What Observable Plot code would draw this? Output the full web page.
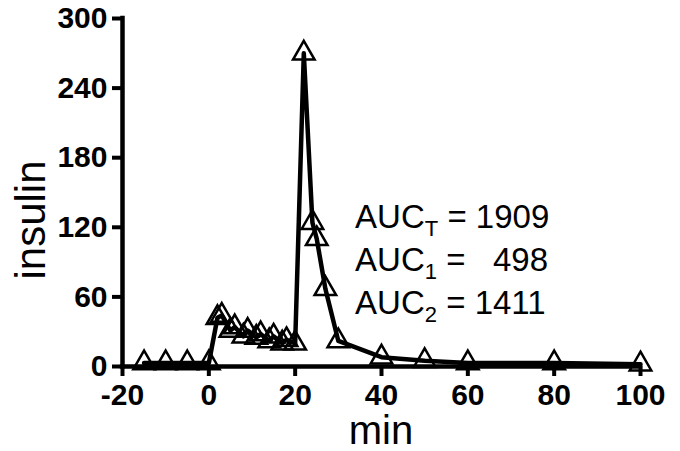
<!DOCTYPE html>
<html>
<head>
<meta charset="utf-8">
<script src="https://cdn.jsdelivr.net/npm/d3@7"></script>
<script src="https://cdn.jsdelivr.net/npm/@observablehq/plot@0.6"></script>
<style>
  html, body { margin: 0; padding: 0; background: #fff; }
</style>
</head>
<body>
<div id="chart"></div>
<script>
// Data
const times   = [-15, -10, -5, 0, 2, 3, 5, 6, 8, 9, 11, 12, 14, 15, 17, 18, 20, 22, 24, 25, 27, 30, 40, 50, 60, 80, 100];
const insulin = [3, 3, 3, 3, 42, 44, 31, 34, 26, 31, 25, 28, 22, 26, 20, 23, 20, 270, 124, 110, 67, 22, 8, 5, 3, 3, 2];
const xTicks = [-20, 0, 20, 40, 60, 80, 100];
const yTicks = [0, 60, 120, 180, 240, 300];
const aucSubs   = ["T", "1", "2"];
const aucValues = ["= 1909", "=   498", "= 1411"];
const aucY      = [119, 82, 45];
const aucX      = 34;

const data = times.map((t, i) => ({t, v: insulin[i]}));
const font = "'Liberation Sans', Arial, Helvetica, sans-serif";
const fmt = d => String(d); // plain hyphen-minus like the reference

const plot = Plot.plot({
  width: 680,
  height: 451,
  marginLeft: 122,
  marginRight: 40,
  marginTop: 18,
  marginBottom: 85,
  style: {fontFamily: font, background: "white", color: "black"},
  x: {domain: [-20, 100]},
  y: {domain: [0, 300]},
  marks: [
    Plot.axisX({ticks: xTicks, tickFormat: fmt, tickSize: 10, strokeWidth: 4, tickPadding: 7, fontSize: 30, fontWeight: "bold", label: null}),
    Plot.axisY({ticks: yTicks, tickFormat: fmt, tickSize: 10, strokeWidth: 4, tickPadding: 5, fontSize: 30, fontWeight: "bold", label: null}),
    Plot.ruleY([0], {x1: -20, x2: 100, strokeWidth: 4.5, strokeLinecap: "square"}),
    Plot.ruleX([-20], {y1: 0, y2: 300, strokeWidth: 4.5, strokeLinecap: "square"}),
    Plot.line(data, {x: "t", y: "v", stroke: "black", strokeWidth: 4.5, strokeLinejoin: "round"}),
    Plot.dot(data, {x: "t", y: "v", symbol: "triangle", r: 8, fill: "none", stroke: "black", strokeWidth: 2.5})
  ]
});

const xs = plot.scale("x"), ys = plot.scale("y");
const svg = d3.select(plot);

// Axis titles
svg.append("text")
  .attr("x", (xs.range[0] + xs.range[1]) / 2)
  .attr("y", 444)
  .attr("text-anchor", "middle")
  .attr("font-family", font)
  .attr("font-size", 40)
  .attr("fill", "black")
  .text("min");
svg.append("text")
  .attr("transform", "translate(45,220) rotate(-90)")
  .attr("text-anchor", "middle")
  .attr("font-family", font)
  .attr("font-size", 42)
  .attr("fill", "black")
  .text("insulin");

// AUC annotations with subscripts
aucSubs.forEach((s, i) => {
  const t = svg.append("text")
    .attr("x", xs.apply(aucX))
    .attr("y", ys.apply(aucY[i]))
    .attr("text-anchor", "start")
    .attr("font-family", font)
    .attr("font-size", 33)
    .attr("fill", "black")
    .style("white-space", "pre");
  t.append("tspan").text("AUC");
  t.append("tspan").attr("font-size", 22).attr("dy", 8).text(s);
  t.append("tspan").attr("dy", -8).text(" " + aucValues[i]);
});

document.getElementById("chart").appendChild(plot);
</script>
</body>
</html>
